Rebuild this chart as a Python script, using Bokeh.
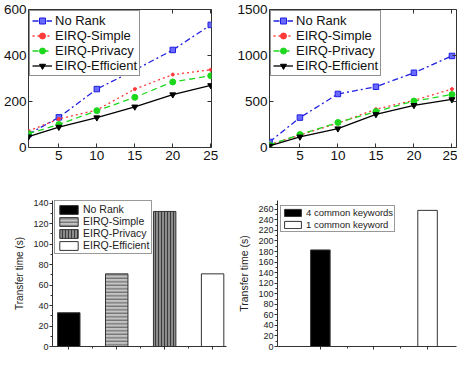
from bokeh.plotting import figure
from bokeh.layouts import column, row
from bokeh.models import Range1d, FixedTicker, LinearAxis
from bokeh.embed import file_html
from bokeh.resources import INLINE

# ---------------- data ----------------
ks = [1, 5, 10, 15, 20, 25]
series_names = ["No Rank", "EIRQ-Simple", "EIRQ-Privacy", "EIRQ-Efficient"]

no_rank_a = [58, 131, 254, 337, 424, 533]
simple_a = [72, 124, 163, 254, 317, 338]
privacy_a = [60, 100, 160, 218, 285, 312]
efficient_a = [47, 89, 130, 177, 230, 270]

no_rank_b = [60, 325, 582, 660, 812, 995]
simple_b = [30, 134, 265, 416, 512, 635]
privacy_b = [28, 141, 272, 390, 505, 575]
efficient_b = [18, 116, 205, 360, 459, 522]

y_ticks_a = [0, 200, 400, 600]
y_ticks_b = [0, 500, 1000, 1500]
x_ticks_top = [5, 10, 15, 20, 25]

transfer_names = ["No Rank", "EIRQ-Simple", "EIRQ-Privacy", "EIRQ-Efficient"]
transfer_times = [33, 71, 132, 71]

keyword_names = ["4 common keywords", "1 common keyword"]
keyword_times = [183, 258]

FONT = "Liberation Sans"

# ---------------- styles ----------------
line_styles = [
    dict(color="#1f1fe0", dash="6 3 2 3", marker="square", size=5.5, fill="#6a6aff"),
    dict(color="#ff3a3a", dash="2 3", marker="circle", size=3, fill="#ff3a3a"),
    dict(color="#1ed81e", dash="6 4", marker="circle", size=6, fill="#1ed81e"),
    dict(color="#000000", dash="solid", marker="inverted_triangle", size=6, fill="#000000"),
]


def inward_box_axis(ax, ticks):
    ax.ticker = FixedTicker(ticks=ticks)
    ax.axis_line_color = None
    ax.major_tick_in = 4
    ax.major_tick_out = 0
    ax.minor_tick_line_color = None
    ax.major_tick_line_color = "#333333"
    ax.major_label_text_font = FONT
    ax.major_label_text_font_size = "13.5px"
    ax.major_label_text_color = "#111111"


def line_panel(width, height, borders, xr, yr, yticks, data):
    p = figure(width=width, height=height, output_backend="svg", toolbar_location=None,
               x_range=xr, y_range=yr,
               min_border_left=borders[0], min_border_right=borders[1],
               min_border_top=borders[2], min_border_bottom=borders[3])
    p.xgrid.visible = False
    p.ygrid.visible = False
    p.outline_line_color = "#333333"
    p.outline_line_width = 1
    for name, vals, st in zip(series_names, data, line_styles):
        p.line(ks, vals, line_color=st["color"], line_dash=st["dash"], line_width=1.3,
               legend_label=name)
        p.scatter(ks, vals, marker=st["marker"], size=st["size"], line_color=st["color"],
                  fill_color=st["fill"], legend_label=name)
    inward_box_axis(p.xaxis[0], x_ticks_top)
    inward_box_axis(p.yaxis[0], yticks)
    p.xaxis[0].major_label_standoff = 3
    p.yaxis[0].major_label_standoff = 2
    # tick marks on the top and right edges of the box, without labels
    top_ax = LinearAxis()
    right_ax = LinearAxis()
    inward_box_axis(top_ax, x_ticks_top)
    inward_box_axis(right_ax, yticks)
    for ax in (top_ax, right_ax):
        ax.major_label_text_color = None
        ax.major_label_text_font_size = "1px"
        ax.major_label_standoff = 0
    p.add_layout(top_ax, "above")
    p.add_layout(right_ax, "right")
    lg = p.legend[0]
    lg.location = "top_left"
    lg.margin = 1
    lg.padding = 2
    lg.spacing = 0
    lg.label_height = 15
    lg.glyph_height = 15
    lg.glyph_width = 20
    lg.label_standoff = 3
    lg.label_text_font = FONT
    lg.label_text_font_size = "13px"
    lg.label_text_color = "#111111"
    lg.border_line_color = "#222222"
    lg.border_line_width = 1
    lg.background_fill_alpha = 1
    return p


p1 = line_panel(229, 167, (28, 18, 8, 20), Range1d(1, 25.1), Range1d(0, 600), y_ticks_a,
                [no_rank_a, simple_a, privacy_a, efficient_a])
p2 = line_panel(228, 167, (40, 1, 9, 20), Range1d(1, 25.6), Range1d(0, 1500), y_ticks_b,
                [no_rank_b, simple_b, privacy_b, efficient_b])


def style_origin_axes(p, yticks, yminor, xticks, xminor):
    p.xgrid.visible = False
    p.ygrid.visible = False
    p.outline_line_color = None
    for ax in (p.xaxis[0], p.yaxis[0]):
        ax.axis_line_color = "#333333"
        ax.major_tick_line_color = "#333333"
        ax.minor_tick_line_color = "#333333"
        ax.major_tick_in = 0
        ax.major_tick_out = 3
        ax.minor_tick_in = 0
        ax.minor_tick_out = 2
        ax.major_label_text_font = FONT
        ax.major_label_text_color = "#222222"
    p.yaxis[0].ticker = FixedTicker(ticks=yticks, minor_ticks=yminor)
    p.xaxis[0].ticker = FixedTicker(ticks=xticks, minor_ticks=xminor)
    # the category axis carries no labels in the reference
    p.xaxis[0].major_label_text_color = None
    p.xaxis[0].major_label_text_font_size = "1px"
    p.xaxis[0].major_label_standoff = 0
    p.yaxis[0].major_label_text_font_size = "9px"
    p.yaxis[0].major_label_standoff = 1
    p.yaxis[0].axis_label = "Transfer time (s)"
    p.yaxis[0].axis_label_text_font = FONT
    p.yaxis[0].axis_label_text_font_style = "normal"
    p.yaxis[0].axis_label_text_font_size = "10px"
    p.yaxis[0].axis_label_text_color = "#222222"
    p.yaxis[0].axis_label_standoff = 5


# ---------------- bottom-left bars ----------------
bar_styles = [
    dict(fill="#000000", hatch=None, hcolor=None, hscale=None),
    dict(fill="#c4c4c4", hatch="horizontal_line", hcolor="#555555", hscale=3.5),
    dict(fill="#8c8c8c", hatch="vertical_line", hcolor="#3a3a3a", hscale=3),
    dict(fill="#ffffff", hatch=None, hcolor=None, hscale=None),
]

p3 = figure(width=229, height=184, output_backend="svg", toolbar_location=None,
            x_range=Range1d(0.66, 4.29), y_range=Range1d(0, 142.7),
            min_border_left=52, min_border_right=3, min_border_top=23, min_border_bottom=4)
pos3 = list(range(1, len(transfer_names) + 1))
for i, (name, val, st) in enumerate(zip(transfer_names, transfer_times, bar_styles)):
    kw = dict(x=[pos3[i]], top=[val], bottom=0, width=0.468, fill_color=st["fill"],
              line_color="#333333", line_width=1, legend_label=name)
    if st["hatch"]:
        kw.update(hatch_pattern=st["hatch"], hatch_color=st["hcolor"],
                  hatch_scale=st["hscale"], hatch_weight=1)
    p3.vbar(**kw)
style_origin_axes(p3, list(range(0, 141, 20)), list(range(10, 141, 20)),
                  pos3, [1.5, 2.5, 3.5])
lg3 = p3.legend[0]
lg3.location = (2, 92)
lg3.margin = 0
lg3.padding = 2
lg3.spacing = 0
lg3.label_height = 12
lg3.glyph_height = 11
lg3.glyph_width = 23
lg3.label_standoff = 3
lg3.label_text_font = FONT
lg3.label_text_font_size = "10.5px"
lg3.label_text_color = "#222222"
lg3.border_line_color = "#333333"
lg3.background_fill_alpha = 1

# ---------------- bottom-right bars ----------------
kw_fill = ["#000000", "#ffffff"]
pos4 = [1, 3]
p4 = figure(width=228, height=184, output_backend="svg", toolbar_location=None,
            x_range=Range1d(0.2, 3.54), y_range=Range1d(0, 276.7),
            min_border_left=48, min_border_right=1, min_border_top=33, min_border_bottom=5)
for name, val, x, fc in zip(keyword_names, keyword_times, pos4, kw_fill):
    p4.vbar(x=[x], top=[val], bottom=0, width=0.364, fill_color=fc,
            line_color="#333333", line_width=1, legend_label=name)
style_origin_axes(p4, list(range(0, 261, 20)), list(range(10, 271, 20)),
                  [1, 2, 3], [1.5, 2.5])
p4.yaxis[0].axis_label_text_font_size = "10.5px"
lg4 = p4.legend[0]
lg4.location = (3, 114)
lg4.margin = 0
lg4.padding = 1
lg4.spacing = 1
lg4.label_height = 11
lg4.glyph_height = 9
lg4.glyph_width = 21
lg4.label_standoff = 3
lg4.label_text_font = FONT
lg4.label_text_font_size = "9.5px"
lg4.label_text_color = "#222222"
lg4.border_line_color = "#333333"
lg4.background_fill_alpha = 1

layout = column(row(p1, p2), row(p3, p4))
open("out.html", "w").write(file_html(layout, INLINE))
